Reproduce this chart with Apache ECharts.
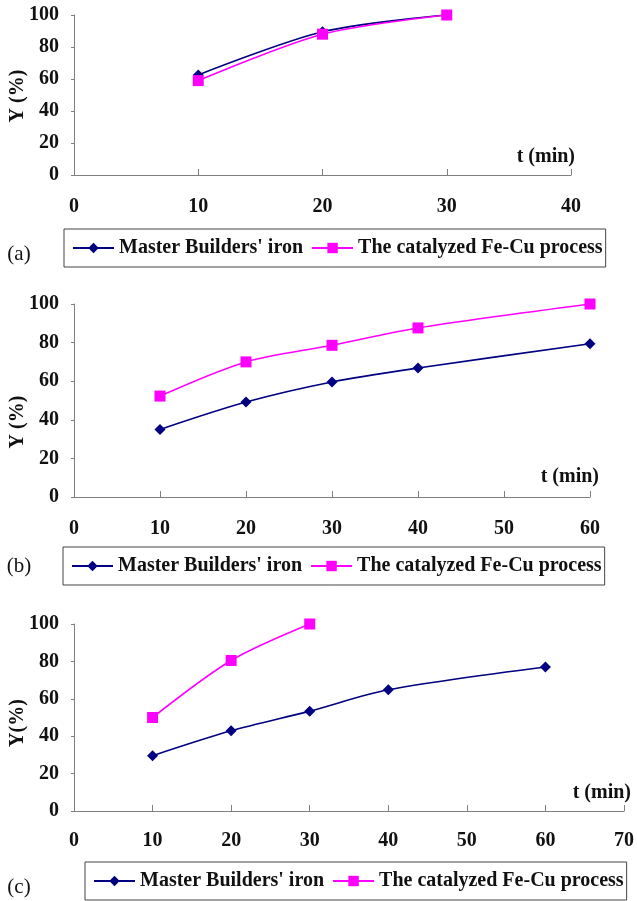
<!DOCTYPE html>
<html>
<head>
<meta charset="utf-8">
<script src="https://cdn.jsdelivr.net/npm/echarts@6/dist/echarts.min.js"></script>
<style>html,body{margin:0;padding:0;background:#fff}#c{width:637px;height:901px}</style>
</head>
<body>
<div id="c"></div>
<script>
// ---- data ----
const seriesNames = ["Master Builders' iron", "The catalyzed Fe-Cu process"];
const tA = [10, 20, 30];
const masterA = [62.5, 89.5, 100];
const fecuA = [59, 88, 100];
const tB = [10, 20, 30, 40, 60];
const masterB = [35, 49.2, 59.6, 66.8, 79.4];
const fecuB = [52.3, 70, 78.6, 87.6, 100];
const tCmaster = [10, 20, 30, 40, 60];
const masterC = [29.6, 42.9, 53.4, 64.8, 77];
const tCfecu = [10, 20, 30];
const fecuC = [50, 80.5, 100];
const xMax = [40, 60, 70];
const panelLabels = ['(a)', '(b)', '(c)'];
const yNames = ['Y (%)', 'Y (%)', 'Y(%)'];
const xName = 't (min)';

const FONT = '"Liberation Serif", "Times New Roman", serif';
const NAVY = '#000080', MAG = '#FF00FF', AX = '#7f7f7f';
const FS = 20;

const grids = [
  {left: 74, width: 497, top: 15, height: 160},
  {left: 74, width: 516, top: 304, height: 193},
  {left: 74, width: 555, top: 624, height: 187}
];
const legendPos = [
  {left: 64, top: 229},
  {left: 63, top: 547},
  {left: 85, top: 862}
];
const labelGaps = [22, 22, 20];

function pairs(xs, ys) { return xs.map((x, i) => [x, ys[i]]); }

const xAxes = grids.map((g, i) => ({
  type: 'value', gridIndex: i, min: 0, max: xMax[i], interval: 10,
  axisLine: {show: true, lineStyle: {color: AX, width: 1}},
  axisTick: {show: true, inside: true, length: 6, lineStyle: {color: AX}},
  splitLine: {show: false},
  axisLabel: {margin: labelGaps[i], fontFamily: FONT, fontWeight: 'bold', fontSize: FS, color: '#111'}
}));
const yAxes = grids.map((g, i) => ({
  type: 'value', gridIndex: i, min: 0, max: 100, interval: 20,
  axisLine: {show: true, lineStyle: {color: AX, width: 1}},
  axisTick: {show: true, length: 3, lineStyle: {color: AX}},
  splitLine: {show: false},
  axisLabel: {margin: 15, fontFamily: FONT, fontWeight: 'bold', fontSize: FS, color: '#111'}
}));

function mk(name, idx, data, color, symbol, size) {
  return {
    name: name, type: 'line', xAxisIndex: idx, yAxisIndex: idx,
    data: data, smooth: 0.3, symbol: symbol, symbolSize: size,
    lineStyle: {color: color, width: 1.6},
    itemStyle: {color: color},
    emphasis: {disabled: true}
  };
}

const series = [
  mk(seriesNames[0], 0, pairs(tA, masterA), NAVY, 'diamond', 11),
  mk(seriesNames[1], 0, pairs(tA, fecuA), MAG, 'rect', 11),
  mk(seriesNames[0], 1, pairs(tB, masterB), NAVY, 'diamond', 11),
  mk(seriesNames[1], 1, pairs(tB, fecuB), MAG, 'rect', 11),
  mk(seriesNames[0], 2, pairs(tCmaster, masterC), NAVY, 'diamond', 11),
  mk(seriesNames[1], 2, pairs(tCfecu, fecuC), MAG, 'rect', 11)
];

const legends = legendPos.map(p => ({
  data: seriesNames, left: p.left, top: p.top, orient: 'horizontal',
  padding: [9, 3, 9, 8], itemGap: 8, itemWidth: 41, itemHeight: 13,
  borderColor: '#444', borderWidth: 1, selectedMode: false,
  textStyle: {fontFamily: FONT, fontWeight: 'bold', fontSize: FS, color: '#111'}
}));

const yNameCenters = [96, 422, 723];
const xNamePos = [{right: 575, y: 157}, {right: 599, y: 477}, {right: 631, y: 793}];
const panelLabelY = [254, 566, 887];

const graphic = [];
for (let i = 0; i < 3; i++) {
  graphic.push({
    type: 'text', x: 18, y: yNameCenters[i], rotation: Math.PI / 2,
    style: {text: yNames[i], font: 'bold ' + FS + 'px ' + FONT, fill: '#111', align: 'center', verticalAlign: 'middle'}
  });
  graphic.push({
    type: 'text', x: xNamePos[i].right, y: xNamePos[i].y,
    style: {text: xName, font: 'bold ' + FS + 'px ' + FONT, fill: '#111', align: 'right', verticalAlign: 'middle'}
  });
  graphic.push({
    type: 'text', x: 19, y: panelLabelY[i],
    style: {text: panelLabels[i], font: '21px ' + FONT, fill: '#111', align: 'center', verticalAlign: 'middle'}
  });
}

const chart = echarts.init(document.getElementById('c'), null, {renderer: 'canvas'});
chart.setOption({
  backgroundColor: '#fff',
  animation: false,
  grid: grids,
  xAxis: xAxes,
  yAxis: yAxes,
  legend: legends,
  series: series,
  graphic: graphic
});
</script>
</body>
</html>
